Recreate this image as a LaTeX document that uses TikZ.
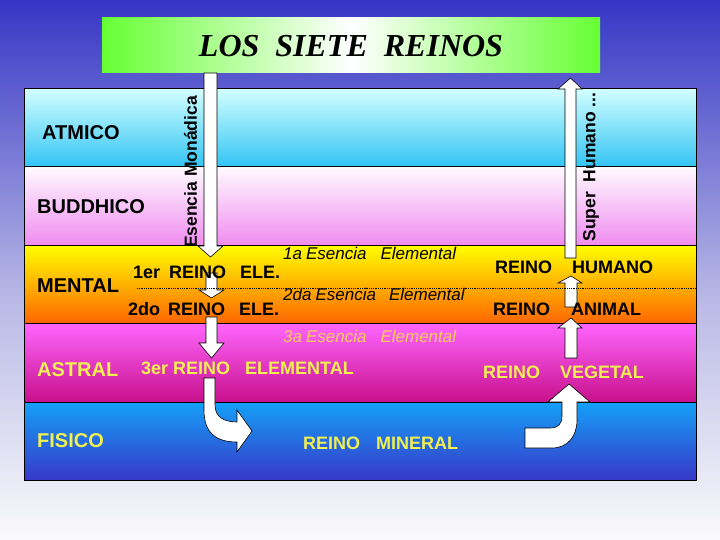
\documentclass[tikz,border=0pt]{standalone}
\usepackage{fontspec}
\setmainfont{Liberation Sans}
\newfontfamily\titlefont{Liberation Serif}
\definecolor{bgtop}{RGB}{54,54,198}
\definecolor{bgmid}{RGB}{185,185,230}
\definecolor{bgbot}{RGB}{250,250,252}
\definecolor{titlegreen}{RGB}{102,255,51}
\definecolor{atmtop}{RGB}{210,255,255}
\definecolor{atmbot}{RGB}{51,196,244}
\definecolor{budtop}{RGB}{255,250,255}
\definecolor{budbot}{RGB}{240,140,240}
\definecolor{mentop}{RGB}{255,255,0}
\definecolor{menmid}{RGB}{255,200,0}
\definecolor{menbot}{RGB}{255,102,0}
\definecolor{asttop}{RGB}{255,102,255}
\definecolor{astmid}{RGB}{235,80,225}
\definecolor{astbot}{RGB}{200,16,140}
\definecolor{fistop}{RGB}{20,160,248}
\definecolor{fisbot}{RGB}{56,56,200}
\definecolor{reinoyellow}{RGB}{240,240,80}
\definecolor{esenciaorange}{RGB}{250,205,90}

\tikzset{
  band/.style={draw=black,line width=1pt},
  blockarrow/.style={fill=white,draw=black,line width=0.6pt},
  plane/.style={anchor=west,inner sep=0pt,font=\bfseries\fontsize{20}{24}\selectfont},
  reino/.style={anchor=west,inner sep=0pt,font=\bfseries\fontsize{18}{22}\selectfont},
  esencia/.style={anchor=west,inner sep=0pt,font=\itshape\fontsize{17}{20}\selectfont},
  vertlabel/.style={rotate=90,inner sep=0pt,font=\bfseries\fontsize{17.5}{20}\selectfont}
}

\begin{document}
\begin{tikzpicture}[x=1pt,y=-1pt]
  \useasboundingbox (0,0) rectangle (720,540);
  \shade[top color=bgtop,bottom color=bgmid] (0,0) rectangle (720,300);
  \shade[top color=bgmid,bottom color=bgbot] (0,299.5) rectangle (720,540);

  % title:
  \shade[left color=titlegreen,right color=titlegreen,middle color=white] (102,18) rectangle (600,73);
  \node[font=\titlefont\bfseries\itshape\fontsize{32}{36}\selectfont] (title) at (351,46) {LOS~~SIETE~~REINOS};

  % planes:
  \shade[band,top color=atmtop,bottom color=atmbot] (24,89) rectangle (696,167);
  \shade[band,top color=budtop,bottom color=budbot] (24,167) rectangle (696,245);
  \shade[band,top color=mentop,middle color=menmid,bottom color=menbot] (24,245) rectangle (696,323);
  \shade[band,top color=asttop,middle color=astmid,bottom color=astbot] (24,323) rectangle (696,402);
  \shade[band,top color=fistop,bottom color=fisbot] (24,402) rectangle (696,480);

  % descending arrows:
  \draw[blockarrow] (204,73) -- (204,246) -- (198,246) -- (210.5,257) -- (223,246) -- (217,246) -- (217,73) -- cycle;
  \draw[blockarrow] (206,273) -- (206,290) -- (199,290) -- (211.5,298) -- (224,290) -- (217,290) -- (217,273) -- cycle;
  \draw[blockarrow] (206,317) -- (206,343) -- (199,343) -- (211.5,358) -- (224,343) -- (217,343) -- (217,317) -- cycle;
  \draw[blockarrow] (204,378) -- (204,410) .. controls (204,432) and (215,442) .. (237,442) -- (237,452) -- (252,431) -- (237,410)
    -- (237,422) .. controls (224,422) and (215,417) .. (215,405) -- (215,378) -- cycle;

  % ascending arrows:
  \draw[blockarrow] (565,258) -- (565,89) -- (558,89) -- (570.5,78) -- (582,89) -- (576,89) -- (576,258) -- cycle;
  \draw[blockarrow] (565,307) -- (565,283) -- (558,283) -- (571,276) -- (582,283) -- (577,283) -- (577,307) -- cycle;
  \draw[blockarrow] (565,358) -- (565,328) -- (558,328) -- (571,318) -- (582,328) -- (577,328) -- (577,358) -- cycle;
  \draw[blockarrow] (525,428) -- (550,428) .. controls (558,428) and (562,424) .. (562,416) -- (562,402) -- (548,402) -- (569,384)
    -- (590,402) -- (577,402) -- (577,420) .. controls (577,436) and (568,448) .. (552,448) -- (525,448) -- cycle;

  \draw[densely dotted,line width=0.8pt] (137,288) -- (696,288);

  % plane names:
  \node[plane] (atmico) at (42,133) {ATMICO};
  \node[plane] (buddhico) at (37,207) {BUDDHICO};
  \node[plane] (mental) at (37,286) {MENTAL};
  \node[plane,text=reinoyellow] (astral) at (37,370) {ASTRAL};
  \node[plane,text=reinoyellow] (fisico) at (37,441) {FISICO};

  % kingdoms:
  \node[reino] (reino1) at (133,272) {1er\hspace{9pt}REINO\hspace{14pt}ELE.};
  \node[reino] (reino2) at (128,309) {2do\hspace{8pt}REINO\hspace{14pt}ELE.};
  \node[reino,text=reinoyellow] (reino3) at (141,368) {3er\hspace{5pt}REINO\hspace{15pt}ELEMENTAL};
  \node[reino,text=reinoyellow] (mineral) at (303,443) {REINO\hspace{16pt}MINERAL};
  \node[reino,text=reinoyellow] (vegetal) at (483,372) {REINO\hspace{20pt}VEGETAL};
  \node[reino] (animal) at (493,309) {REINO\hspace{21pt}ANIMAL};
  \node[reino] (humano) at (495,267) {REINO\hspace{20pt}HUMANO};

  % essences:
  \node[esencia] (esencia1) at (283,253) {1a\hspace{4pt}Esencia\hspace{14pt}Elemental};
  \node[esencia] (esencia2) at (283,294) {2da\hspace{4pt}Esencia\hspace{13pt}Elemental};
  \node[esencia,text=esenciaorange] (esencia3) at (283,336) {3a\hspace{4pt}Esencia\hspace{14pt}Elemental};

  \node[vertlabel] (monadica) at (190.5,172) {Esencia Monádica};
  \node[vertlabel] (superhumano) at (591,167) {Super~~Humano ...};
\end{tikzpicture}
\end{document}
